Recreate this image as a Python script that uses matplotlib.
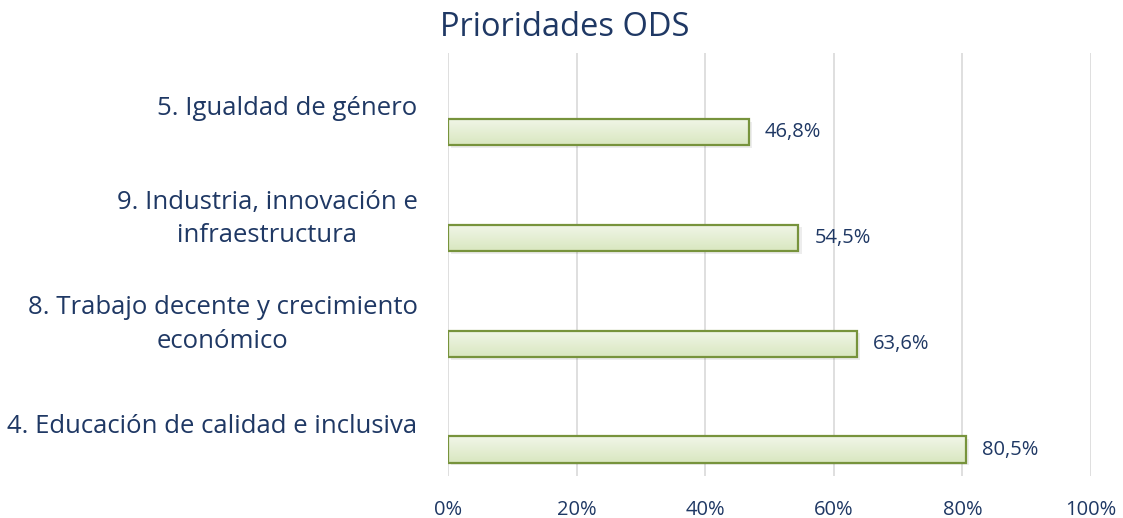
import numpy as np
import matplotlib
matplotlib.use("Agg")
import matplotlib.pyplot as plt
from matplotlib.colors import LinearSegmentedColormap
from matplotlib.ticker import FuncFormatter

# datos (de abajo hacia arriba)
categorias = [
    "4. Educación de calidad e inclusiva",
    "8. Trabajo decente y crecimiento\neconómico",
    "9. Industria, innovación e\ninfraestructura",
    "5. Igualdad de género",
]
valores = [80.5, 63.6, 54.5, 46.8]
ticks_x = [0, 20, 40, 60, 80, 100]

TEXTO = "#1F3864"
plt.rcParams["font.family"] = ["Open Sans", "DejaVu Sans"]

fig = plt.figure(figsize=(11.23, 5.18), dpi=100)
ax = fig.add_axes([0.399, 0.081, 0.5725, 0.817])

y = np.arange(len(categorias))
alto = 0.25
pos_barras = y - 0.25

barras = ax.barh(pos_barras, valores, height=alto, facecolor="none",
                 edgecolor="#77933C", linewidth=1.6, zorder=3)

# degradado verde claro dentro de cada barra
cmap = LinearSegmentedColormap.from_list("verde", ["#D9E7C0", "#F1F6E8"])
grad = np.linspace(0, 1, 64).reshape(-1, 1)
for b in barras:
    x0, y0 = b.get_x(), b.get_y()
    w, h = b.get_width(), b.get_height()
    im = ax.imshow(grad, cmap=cmap, aspect="auto", origin="lower",
                   extent=[x0, x0 + w, y0, y0 + h], zorder=2)
    im.set_clip_path(b)
    # sombra suave
    ax.barh(y0 + h / 2 - 0.025, w, left=0.5, height=h, color="#000000",
            alpha=0.07, zorder=1, linewidth=0)

for p, v in zip(pos_barras, valores):
    ax.text(v + 2.5, p, f"{v:.1f}%".replace(".", ","), va="center", ha="left",
            fontsize=14.5, color=TEXTO)

ax.set_xlim(0, 100)
ax.set_ylim(-0.5, len(categorias) - 0.5)
ax.set_xticks(ticks_x)
ax.xaxis.set_major_formatter(FuncFormatter(lambda v, _: f"{v:.0f}%"))
ax.set_yticks(y)
ax.set_yticklabels(categorias)
for t in ax.get_yticklabels():
    t.set_multialignment("center")
    t.set_fontsize(18.5)
    t.set_color(TEXTO)
    t.set_linespacing(1.45)
ax.tick_params(axis="y", length=0, pad=22)
ax.tick_params(axis="x", length=0, pad=17, labelsize=14.5, labelcolor=TEXTO)

ax.grid(axis="x", color="#D9D9D9", linewidth=1.2, zorder=0)
ax.set_axisbelow(True)
for s in ax.spines.values():
    s.set_visible(False)

fig.text(0.503, 0.915, "Prioridades ODS", ha="center", va="bottom",
         fontsize=23.5, color=TEXTO)

fig.savefig("out.png", dpi=100)
